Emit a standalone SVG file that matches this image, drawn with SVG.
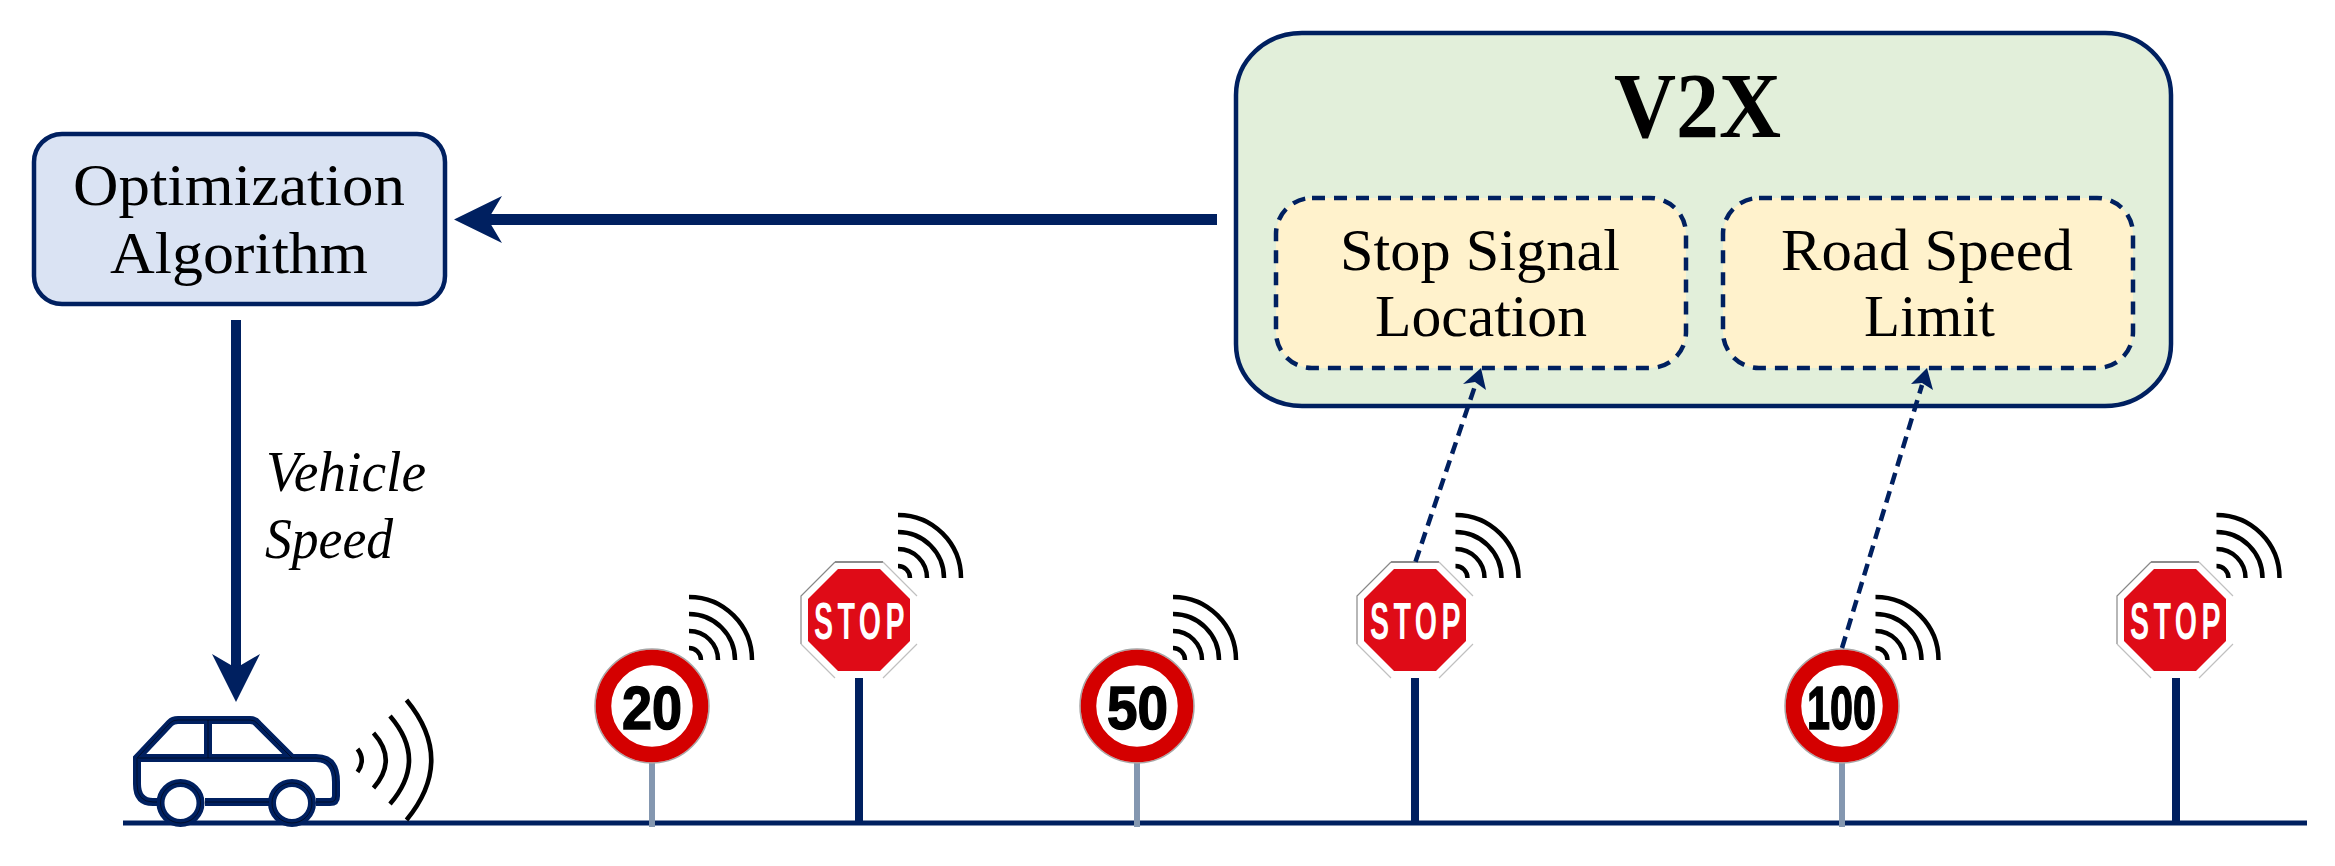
<svg xmlns="http://www.w3.org/2000/svg" xmlns:xlink="http://www.w3.org/1999/xlink" width="2335" height="866" viewBox="0 0 2335 866">
<style>
.t{font-family:"Liberation Serif","Times New Roman",serif;font-size:59px;fill:#000}
.i{font-style:italic;font-size:57px}
.b{font-weight:bold;font-size:94px}
.d{font-family:"Liberation Sans",Arial,sans-serif;font-weight:bold;font-size:62px;fill:#000;stroke:#000;stroke-width:1.5}
.s{font-family:"Liberation Sans",Arial,sans-serif;font-weight:bold;font-size:52px;fill:#fff;letter-spacing:8px}
.w{fill:none;stroke:#000;stroke-width:4.500}
.dash{fill:#fff2cc;stroke:#002060;stroke-width:4.500;stroke-dasharray:13 9}
.car{fill:none;stroke:#002060;stroke-width:8}
.carl{fill:none;stroke:#000;stroke-width:.8;opacity:.7}
.navy{fill:#002060}
</style>
<defs>
<g id="wifi">
<path class="w" d="M0-63A63 63 0 0 1 63 0M0-46A46 46 0 0 1 46 0M0-29A29 29 0 0 1 29 0M0-12A12 12 0 0 1 12 0"/>
</g>
<g id="round">
<circle r="57" fill="#fff" stroke="#a6a6a6" stroke-width="1.500"/>
<circle r="48.500" fill="none" stroke="#d40000" stroke-width="15.500"/>
</g>
<g id="octa">
<path d="M-24-58H24L58-24V24L24 58H-24L-58 24V-24Z" fill="#fff"/>
<path d="M-24-58H24" fill="none" stroke="#666" stroke-width="1.500"/>
<path d="M-24-58L-58-24V24" fill="none" stroke="#888" stroke-width="1.200"/>
<path d="M24-58L58-24M-58 24L-24 58M24 58L58 24" fill="none" stroke="#c0c0c0" stroke-width="1.200"/>
<path d="M-21-51H21L51-21V21L21 51H-21L-51 21V-21Z" fill="#df0b17"/>
</g>
</defs>
<rect width="2335" height="866" fill="#fff"/>

<g id="ground"><rect class="navy" x="123" y="820.500" width="2184" height="5"/></g>

<g id="v2x">
<rect x="1236" y="33" width="935" height="373" rx="66" ry="62" fill="#e2efda" stroke="#002060" stroke-width="4.500"/>
<text class="t b" x="1614" y="137" textLength="167" lengthAdjust="spacingAndGlyphs">V2X</text>
</g>
<g id="stop-signal-location">
<rect class="dash" x="1276" y="198" width="410" height="170" rx="36"/>
<text class="t" x="1340" y="270" textLength="280" lengthAdjust="spacingAndGlyphs">Stop Signal</text>
<text class="t" x="1375" y="336" textLength="212" lengthAdjust="spacingAndGlyphs">Location</text>
</g>
<g id="road-speed-limit">
<rect class="dash" x="1723" y="198" width="410" height="170" rx="36"/>
<text class="t" x="1781" y="270" textLength="292" lengthAdjust="spacingAndGlyphs">Road Speed</text>
<text class="t" x="1864" y="336" textLength="131" lengthAdjust="spacingAndGlyphs">Limit</text>
</g>
<g id="optimization-algorithm">
<rect x="34" y="134" width="411" height="170" rx="28" fill="#dae3f3" stroke="#002060" stroke-width="4.500"/>
<text class="t" x="73" y="205" textLength="332" lengthAdjust="spacingAndGlyphs">Optimization</text>
<text class="t" x="110" y="273" textLength="258" lengthAdjust="spacingAndGlyphs">Algorithm</text>
</g>
<text id="vehicle-speed" class="t i"><tspan x="266" y="491" textLength="160" lengthAdjust="spacingAndGlyphs">Vehicle</tspan><tspan x="265" y="558" textLength="128" lengthAdjust="spacingAndGlyphs">Speed</tspan></text>

<g id="car">
<path class="car" d="M157 802H153Q137 802 137 784V758L170 723Q173 720 178 720H250Q255 720 258 724L292 758H316Q336 758 336 782V796Q336 802 330 802H316M205 802H269M138 758H292M208 720V758"/>
<circle class="car" cx="180.500" cy="803" r="20"/>
<circle class="car" cx="292" cy="803" r="20"/>
<path class="carl" d="M157 802H153Q137 802 137 784V758L170 723Q173 720 178 720H250Q255 720 258 724L292 758H316Q336 758 336 782V796Q336 802 330 802H316M205 802H269M138 758H292M208 720V758"/>
<circle class="carl" cx="180.500" cy="803" r="20"/>
<circle class="carl" cx="292" cy="803" r="20"/>
<path class="w" d="M357.500 749Q366 760 357.500 772M373.500 733Q398 760 373.500 788M390 716Q428 760 390 804M406.500 700Q456 760 406.500 820"/>
</g>

<g id="sign-20">
<rect x="649" y="760" width="6" height="67" fill="#8497b0"/>
<use xlink:href="#round" href="#round" transform="translate(652 706)"/>
<text class="d" x="622" y="729" textLength="60" lengthAdjust="spacingAndGlyphs">20</text>
<use xlink:href="#wifi" href="#wifi" transform="translate(689 660)"/>
</g>
<g id="stop-1">
<rect class="navy" x="855" y="677" width="8" height="146"/>
<use xlink:href="#octa" href="#octa" transform="translate(859 620)"/>
<text class="s" transform="translate(814 639) scale(.55 1)">STOP</text>
<use xlink:href="#wifi" href="#wifi" transform="translate(898 578)"/>
</g>
<g id="sign-50">
<rect x="1134" y="760" width="6" height="67" fill="#8497b0"/>
<use xlink:href="#round" href="#round" transform="translate(1137 706)"/>
<text class="d" x="1107" y="729" textLength="61" lengthAdjust="spacingAndGlyphs">50</text>
<use xlink:href="#wifi" href="#wifi" transform="translate(1173 660)"/>
</g>
<g id="stop-2">
<rect class="navy" x="1411" y="677" width="8" height="146"/>
<use xlink:href="#octa" href="#octa" transform="translate(1415 620)"/>
<text class="s" transform="translate(1370 639) scale(.55 1)">STOP</text>
<use xlink:href="#wifi" href="#wifi" transform="translate(1455.500 578)"/>
</g>
<g id="sign-100">
<rect x="1839" y="760" width="6" height="67" fill="#8497b0"/>
<use xlink:href="#round" href="#round" transform="translate(1842 706)"/>
<text class="d" x="1807" y="729" textLength="69" lengthAdjust="spacingAndGlyphs">100</text>
<use xlink:href="#wifi" href="#wifi" transform="translate(1875.500 660)"/>
</g>
<g id="stop-3">
<rect class="navy" x="2172" y="677" width="8" height="146"/>
<use xlink:href="#octa" href="#octa" transform="translate(2175 620)"/>
<text class="s" transform="translate(2130 639) scale(.55 1)">STOP</text>
<use xlink:href="#wifi" href="#wifi" transform="translate(2216.500 578)"/>
</g>

<g id="connectors">
<path d="M1217 219.500H480" fill="none" stroke="#002060" stroke-width="11"/>
<path class="navy" d="M454 219.500L502 196L488 219.500L502 243Z"/>
<path d="M236 320V680" fill="none" stroke="#002060" stroke-width="10"/>
<path class="navy" d="M236 702L212 654L236 668L260 654Z"/>
<path d="M1415.500 561.700L1475 386" fill="none" stroke="#002060" stroke-width="4.500" stroke-dasharray="12 7"/>
<path class="navy" d="M1481 368L1486 390L1475 382L1463 384Z"/>
<path d="M1842 648L1922 385" fill="none" stroke="#002060" stroke-width="4.500" stroke-dasharray="12 7"/>
<path class="navy" d="M1927 368L1933 390L1922 383L1911 384Z"/>
</g>
</svg>
